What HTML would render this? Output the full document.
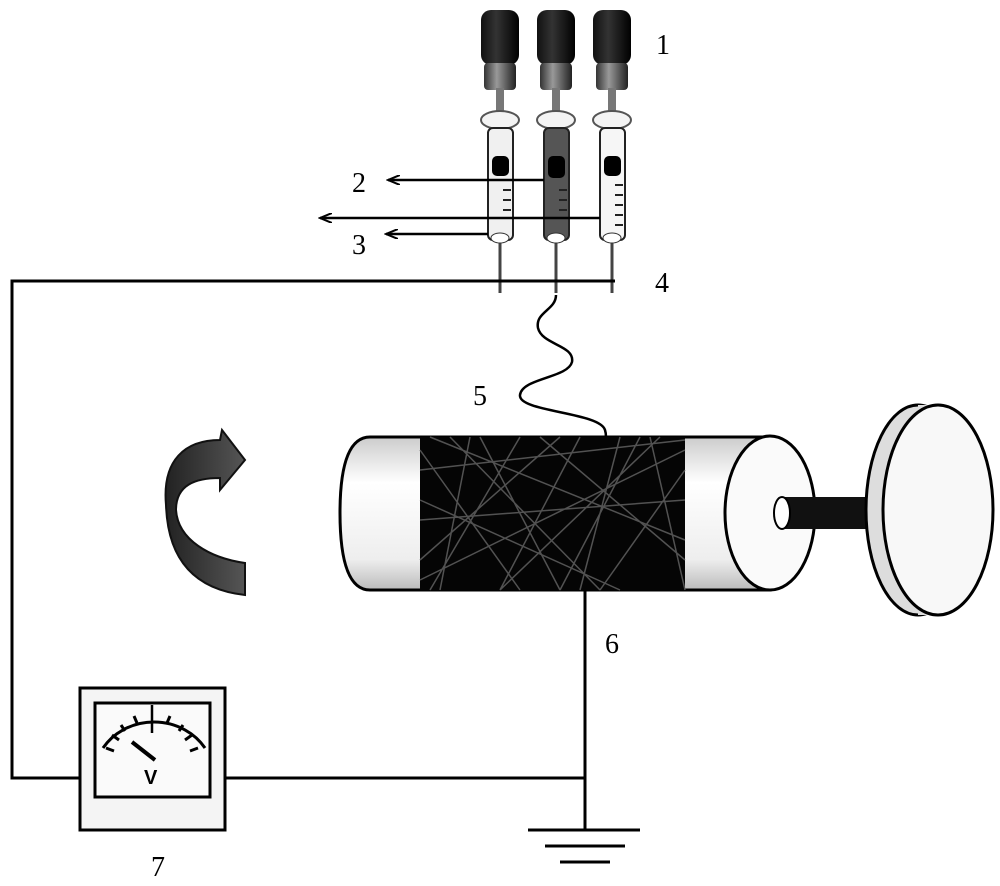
<!DOCTYPE html>
<html><head><style>body{margin:0;background:#fff}svg{display:block}text{font-family:"Liberation Serif",serif;font-size:28px;fill:#000}</style></head><body>
<svg width="1000" height="886" viewBox="0 0 1000 886" xmlns="http://www.w3.org/2000/svg">
<defs>
<linearGradient id="cap" x1="0" x2="1"><stop offset="0" stop-color="#111"/><stop offset=".4" stop-color="#333"/><stop offset="1" stop-color="#000"/></linearGradient>
<linearGradient id="col" x1="0" x2="1"><stop offset="0" stop-color="#333"/><stop offset=".4" stop-color="#999"/><stop offset="1" stop-color="#222"/></linearGradient>
<linearGradient id="cyl" x1="0" y1="0" x2="0" y2="1"><stop offset="0" stop-color="#ccc"/><stop offset=".3" stop-color="#fff"/><stop offset=".8" stop-color="#eee"/><stop offset="1" stop-color="#bbb"/></linearGradient>
<linearGradient id="arr" x1="0" x2="1"><stop offset="0" stop-color="#222"/><stop offset="1" stop-color="#555"/></linearGradient>
<marker id="ah" markerWidth="14" markerHeight="10" refX="12" refY="5" orient="auto" markerUnits="userSpaceOnUse"><path d="M0,0 L12,5 L0,10" fill="none" stroke="#000" stroke-width="2"/></marker>
<g id="syr">
<rect x="-19" y="10" width="38" height="55" rx="10" fill="url(#cap)"/>
<rect x="-16" y="63" width="32" height="27" rx="4" fill="url(#col)"/>
<rect x="-4" y="88" width="8" height="25" fill="#777"/>
<ellipse cx="0" cy="120" rx="19" ry="9" fill="#f4f4f4" stroke="#555" stroke-width="2"/>
<line x1="0" y1="243" x2="0" y2="293" stroke="#444" stroke-width="3"/>
</g>
</defs>
<use href="#syr" x="500"/><use href="#syr" x="556"/><use href="#syr" x="612"/>
<rect x="488" y="128" width="25" height="112" rx="5" fill="#f0f0f0" stroke="#222" stroke-width="2"/>
<rect x="544" y="128" width="25" height="112" rx="5" fill="#555" stroke="#222" stroke-width="2"/>
<rect x="600" y="128" width="25" height="112" rx="5" fill="#f6f6f6" stroke="#222" stroke-width="2"/>
<g fill="#000"><rect x="492" y="156" width="17" height="20" rx="5"/><rect x="548" y="156" width="17" height="22" rx="5"/><rect x="604" y="156" width="17" height="20" rx="5"/></g>
<g stroke="#222" stroke-width="2"><path d="M503 190h8M503 200h8M503 210h8M559 190h8M559 200h8M559 210h8M615 185h8M615 195h8M615 205h8M615 215h8M615 225h8"/></g>
<g fill="#fff" stroke="#333"><ellipse cx="500" cy="238" rx="9" ry="5"/><ellipse cx="556" cy="238" rx="9" ry="5"/><ellipse cx="612" cy="238" rx="9" ry="5"/></g>
<g stroke="#000" stroke-width="2.5" fill="none">
<line x1="544" y1="180" x2="388" y2="180" marker-end="url(#ah)"/>
<line x1="600" y1="218" x2="320" y2="218" marker-end="url(#ah)"/>
<line x1="488" y1="234" x2="386" y2="234" marker-end="url(#ah)"/>
</g>
<g stroke="#000" stroke-width="3" fill="none">
<polyline points="615,281 12,281 12,778 80,778"/>
<line x1="225" y1="778" x2="585" y2="778"/>
<line x1="585" y1="590" x2="585" y2="830"/>
<line x1="528" y1="830" x2="640" y2="830"/>
<line x1="545" y1="846" x2="625" y2="846"/>
<line x1="560" y1="862" x2="610" y2="862"/>
<path d="M556,295 C556,310 535,312 538,328 C542,345 575,345 572,362 C568,378 522,378 520,395 C518,412 600,412 605,430 C608,440 603,448 600,452" stroke-width="2.5"/>
</g>
<path d="M370,437 L770,437 L770,590 L370,590 Q340,590 340,513 Q340,437 370,437 Z" fill="url(#cyl)" stroke="#000" stroke-width="3"/>
<rect x="420" y="437" width="265" height="153" fill="#050505"/>
<g stroke="#666" stroke-width="1.5" opacity=".8">
<path d="M420,470L685,440M430,590L520,437M450,437L600,590M420,520L685,500M500,590L660,437M420,560L560,437M560,590L640,437M600,590L685,470M420,450L520,590M470,437L440,590M540,437L685,560M420,500L620,590M620,437L580,590M650,437L685,590M420,580L685,450M480,437L560,590M430,437L685,540M580,437L500,590"/>
</g>
<ellipse cx="770" cy="513" rx="45" ry="77" fill="#fafafa" stroke="#000" stroke-width="3"/>
<rect x="782" y="497" width="90" height="32" fill="#111"/>
<ellipse cx="782" cy="513" rx="8" ry="16" fill="#fff" stroke="#000" stroke-width="2"/>
<ellipse cx="918" cy="510" rx="52" ry="105" fill="#ddd" stroke="#000" stroke-width="3"/>
<rect x="918" y="405" width="18" height="210" fill="#ddd"/>
<ellipse cx="938" cy="510" rx="55" ry="105" fill="#f8f8f8" stroke="#000" stroke-width="3"/>
<path d="M166,505 C162,460 185,440 220,440 L222,430 L245,460 L220,490 L220,478 C195,478 176,485 176,510 C178,540 210,558 245,563 L245,595 C200,590 168,565 166,505 Z" fill="url(#arr)" stroke="#111" stroke-width="2"/>
<rect x="80" y="688" width="145" height="142" fill="#f4f4f4" stroke="#000" stroke-width="3"/>
<rect x="95" y="703" width="115" height="94" fill="#fafafa" stroke="#000" stroke-width="3"/>
<path d="M103,748 A60,55 0 0 1 205,748" fill="none" stroke="#000" stroke-width="3"/>
<line x1="152" y1="705" x2="152" y2="733" stroke="#000" stroke-width="2.5"/>
<g stroke="#000" stroke-width="3"><path d="M106,748l8,3M112,735l7,5M121,725l4,6M134,716l3,7M170,716l-3,7M183,725l-4,6M192,735l-7,5M198,748l-8,3"/></g>
<line x1="132" y1="742" x2="155" y2="760" stroke="#000" stroke-width="4"/>
<text x="144" y="784" style="font-family:'Liberation Sans',sans-serif;font-size:20px;font-weight:bold">V</text>
<text x="656" y="54">1</text>
<text x="352" y="192">2</text>
<text x="352" y="254">3</text>
<text x="655" y="292">4</text>
<text x="473" y="405">5</text>
<text x="605" y="653">6</text>
<text x="151" y="876">7</text>
</svg>
</body></html>
